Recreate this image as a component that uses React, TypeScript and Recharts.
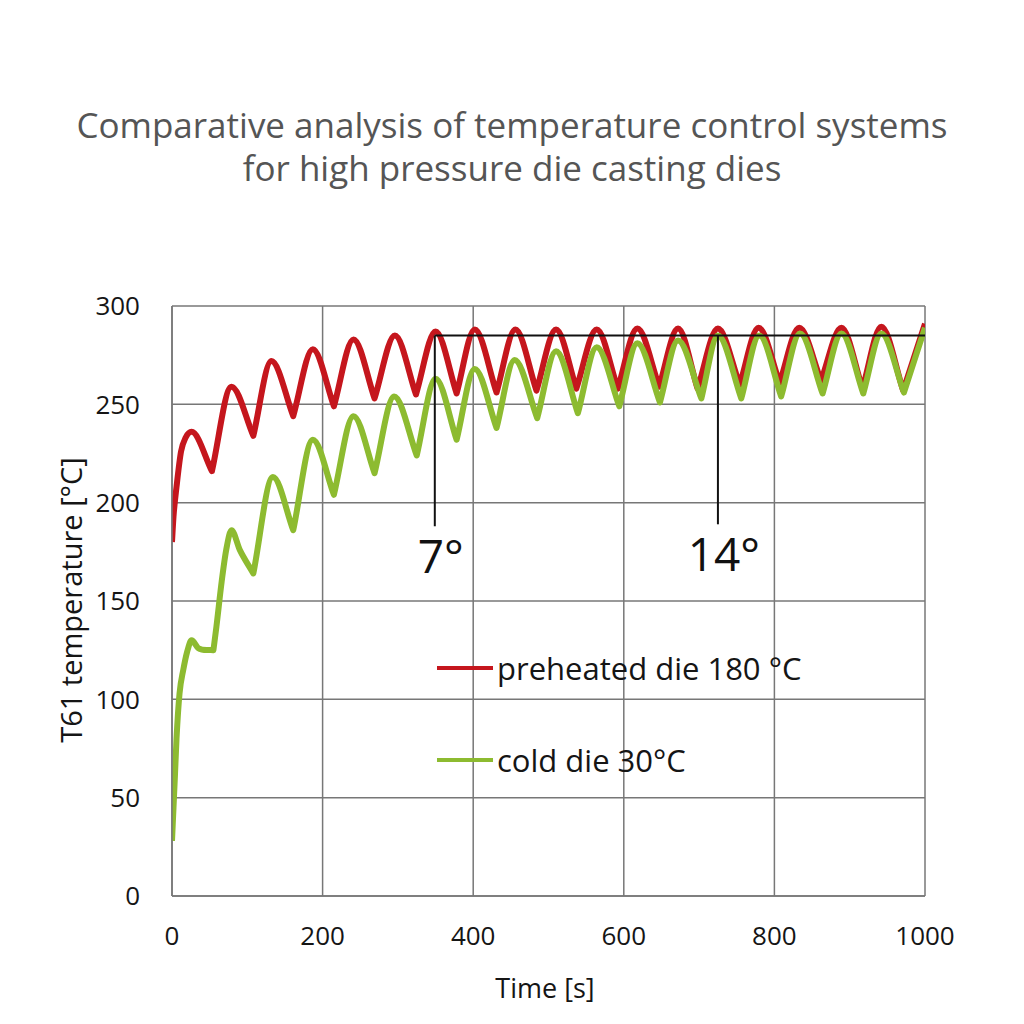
import React from "react";
import {
  CartesianGrid,
  Legend,
  Line,
  LineChart,
  ReferenceLine,
  XAxis,
  YAxis,
} from "recharts";

// readings (time in s, temperature in °C)
const preheatedTime = [
  0, 2, 6, 12, 18, 26, 53, 79, 108, 132, 161, 187, 215, 241, 269, 296, 324, 350,
  378, 402, 431, 456, 484, 510, 537, 564, 592, 618, 647, 672, 698, 725, 754, 779,
  807, 833, 862, 889, 917, 942, 971, 1000,
];
const preheatedTemp = [
  180, 193, 208, 226, 233, 236, 216, 259, 234, 272, 244, 278, 249, 283, 253, 285,
  255, 287, 255.5, 288, 256, 288, 257, 288, 258, 288, 258, 288.5, 259, 288.5, 258,
  288.5, 260, 289, 261, 289, 262, 289, 258, 289.5, 257, 291,
];

const coldTime = [
  0, 2, 4, 6, 10, 15, 20, 26, 35, 55, 59, 66, 72, 79, 90, 108, 134, 161, 187, 215,
  241, 269, 295, 325, 350, 378, 402, 431, 455, 485, 510, 539, 564, 594, 618, 648,
  672, 703, 725, 756, 780, 809, 834, 864, 889, 918, 942, 972, 1000,
];
const coldTemp = [
  28, 45, 62, 80, 103, 115, 124, 130, 126, 125, 137, 160, 176, 186, 176, 164, 213,
  186, 232, 204, 244, 215, 254, 224, 263, 232, 268, 238, 272.5, 243, 277, 245.5,
  279, 249, 281, 251, 282.5, 253, 285, 253, 285, 254, 286, 255.5, 286, 255.5, 286,
  256, 289,
];

const xTicks = [0, 200, 400, 600, 800, 1000];
const yTicks = [0, 50, 100, 150, 200, 250, 300];

// 7° / 14° markers
const markerLevel = 285;
const markerStart = 349;
const markerEnd = 1000;
const marker7 = { x: 349, bottom: 188, label: "7°" };
const marker14 = { x: 725, bottom: 189, label: "14°" };

const seriesNames = ["preheated die 180 °C", "cold die 30°C"];
const RED = "#c5161d";
const GREEN = "#8dbb30";

const preheatedData = preheatedTime.map((t, i) => ({ t, v: preheatedTemp[i] }));
const coldData = coldTime.map((t, i) => ({ t, v: coldTemp[i] }));

const font = "'Open Sans', sans-serif";

// Hermite curve through every reading: flat tangents at crests,
// a corner at troughs (one-sided slopes), averaged slopes elsewhere
const crestCurve = (context: any) => {
  let pts: number[][] = [];
  return {
    areaStart() {},
    areaEnd() {},
    lineStart() {
      pts = [];
    },
    point(x: number, y: number) {
      pts.push([+x, +y]);
    },
    lineEnd() {
      const n = pts.length;
      if (!n) return;
      context.moveTo(pts[0][0], pts[0][1]);
      if (n === 1) return;
      const slope = (a: number[], b: number[]) => (b[1] - a[1]) / (b[0] - a[0] || 1);
      const mIn: number[] = [];
      const mOut: number[] = [];
      for (let i = 0; i < n; i++) {
        const l = i > 0 ? slope(pts[i - 1], pts[i]) : null;
        const r = i < n - 1 ? slope(pts[i], pts[i + 1]) : null;
        if (l === null) {
          mIn[i] = mOut[i] = r as number;
        } else if (r === null) {
          mIn[i] = mOut[i] = l;
        } else if (l < 0 && r > 0) {
          mIn[i] = mOut[i] = 0; // crest (screen y decreasing then increasing)
        } else if (l > 0 && r < 0) {
          mIn[i] = l; // trough keeps its corner
          mOut[i] = r;
        } else {
          mIn[i] = mOut[i] = (l + r) / 2;
        }
      }
      for (let i = 0; i < n - 1; i++) {
        const [x0, y0] = pts[i];
        const [x1, y1] = pts[i + 1];
        const h = (x1 - x0) / 3;
        context.bezierCurveTo(x0 + h, y0 + mOut[i] * h, x1 - h, y1 - mIn[i + 1] * h, x1, y1);
      }
    },
  };
};

const LegendBox = () => (
  <div style={{ fontFamily: font, fontSize: 31, color: "#151515" }}>
    {[RED, GREEN].map((c, i) => (
      <div
        key={i}
        style={{ display: "flex", alignItems: "center", height: 40, marginBottom: i === 0 ? 52 : 0 }}
      >
        <div style={{ width: 56, height: 4, background: c, marginRight: 4 }} />
        <span style={{ whiteSpace: "nowrap" }}>{seriesNames[i]}</span>
      </div>
    ))}
  </div>
);

export default function App() {
  return (
    <div
      style={{
        position: "absolute",
        left: 0,
        top: 0,
        width: 1024,
        height: 1024,
        background: "#fff",
        fontFamily: font,
      }}
    >
      <div
        style={{
          position: "absolute",
          top: 103,
          left: 0,
          width: 1024,
          textAlign: "center",
          fontSize: 35,
          lineHeight: "43px",
          color: "#555",
        }}
      >
        Comparative analysis of temperature control systems
        <br />
        for high pressure die casting dies
      </div>
      <LineChart
        width={1024}
        height={1024}
        margin={{ top: 306, right: 99, bottom: 18, left: 0 }}
        style={{ position: "absolute", left: 0, top: 0 }}
      >
        <CartesianGrid stroke="#777" strokeWidth={1.5} />
        <XAxis
          dataKey="t"
          type="number"
          domain={[0, 1000]}
          ticks={xTicks}
          height={110}
          tickLine={false}
          tickSize={6}
          tickMargin={25}
          axisLine={{ stroke: "#777", strokeWidth: 1.5 }}
          tick={{ fontSize: 26, fill: "#151515", fontFamily: font }}
          allowDataOverflow
        />
        <YAxis
          type="number"
          domain={[0, 300]}
          ticks={yTicks}
          width={172}
          tickLine={false}
          tickSize={6}
          tickMargin={26}
          axisLine={{ stroke: "#777", strokeWidth: 1.5 }}
          tick={{ fontSize: 26, fill: "#151515", fontFamily: font }}
        />
        <Line
          data={preheatedData}
          dataKey="v"
          type={crestCurve as any}
          stroke={RED}
          strokeWidth={6}
          strokeLinejoin="round"
          dot={false}
          isAnimationActive={false}
        />
        <Line
          data={coldData}
          dataKey="v"
          type={crestCurve as any}
          stroke={GREEN}
          strokeWidth={6}
          strokeLinejoin="round"
          dot={false}
          isAnimationActive={false}
        />
        <ReferenceLine
          segment={[
            { x: markerStart, y: markerLevel },
            { x: markerEnd, y: markerLevel },
          ]}
          stroke="#111"
          strokeWidth={2}
        />
        {[marker7, marker14].map((m) => (
          <ReferenceLine
            key={m.label}
            segment={[
              { x: m.x, y: markerLevel },
              { x: m.x, y: m.bottom },
            ]}
            stroke="#111"
            strokeWidth={2}
            label={{
              value: m.label,
              position: "bottom",
              offset: 14,
              dx: 6,
              fontSize: 46,
              fill: "#111",
              fontFamily: font,
            }}
          />
        ))}
        <Legend
          layout="vertical"
          align="center"
          verticalAlign="middle"
          content={<LegendBox />}
          wrapperStyle={{ left: 437, top: 648, width: "auto", bottom: "auto", right: "auto" }}
        />
      </LineChart>
      <div
        style={{
          position: "absolute",
          left: 70,
          top: 600,
          transform: "translate(-50%, -50%) rotate(-90deg)",
          whiteSpace: "nowrap",
          fontSize: 29,
          color: "#151515",
        }}
      >
        T61 temperature [°C]
      </div>
      <div
        style={{
          position: "absolute",
          left: 545,
          top: 987,
          transform: "translate(-50%, -50%)",
          whiteSpace: "nowrap",
          fontSize: 27,
          color: "#151515",
        }}
      >
        Time [s]
      </div>
    </div>
  );
}
